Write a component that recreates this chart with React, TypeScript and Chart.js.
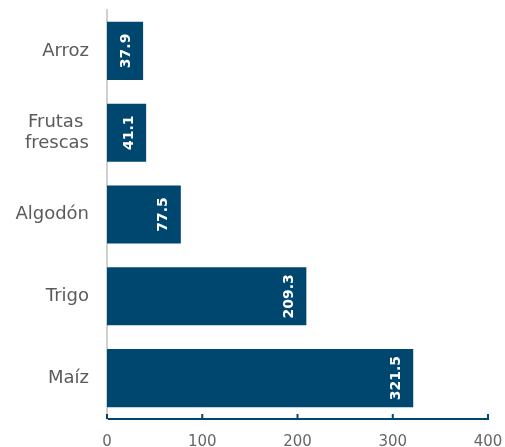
import React, { useEffect, useRef } from "react";
import { Chart, registerables } from "chart.js";

Chart.register(...registerables);

const categories: (string | string[])[] = ["Arroz", ["Frutas ", "frescas"], "Algodón", "Trigo", "Maíz"];
const values = [37.9, 41.1, 77.5, 209.3, 321.5];
const valueLabels = ["37.9", "41.1", "77.5", "209.3", "321.5"];

const NAVY = "#00476F";
const FONT = "'DejaVu Sans', 'Open Sans', sans-serif";

const barLabelPlugin = {
  id: "barLabels",
  afterDatasetsDraw(chart: any) {
    const ctx = chart.ctx;
    const meta = chart.getDatasetMeta(0);
    ctx.save();
    ctx.fillStyle = "#ffffff";
    ctx.font = `bold 14px ${FONT}`;
    ctx.textAlign = "center";
    ctx.textBaseline = "middle";
    meta.data.forEach((bar: any, i: number) => {
      const x = bar.x - 17;
      const y = bar.y;
      ctx.save();
      ctx.translate(x, y);
      ctx.rotate(-Math.PI / 2);
      ctx.fillText(valueLabels[i], 0, 0);
      ctx.restore();
    });
    ctx.restore();
  },
};

const upTicksPlugin = {
  id: "upTicks",
  afterDraw(chart: any) {
    const scale = chart.scales.x;
    const ctx = chart.ctx;
    const yb = chart.chartArea.bottom;
    ctx.save();
    ctx.strokeStyle = NAVY;
    ctx.lineWidth = 2;
    scale.ticks.forEach((_t: any, i: number) => {
      const x = scale.getPixelForTick(i);
      ctx.beginPath();
      ctx.moveTo(x, yb);
      ctx.lineTo(x, yb - 5);
      ctx.stroke();
    });
    ctx.restore();
  },
};

export default function App() {
  const ref = useRef<HTMLCanvasElement>(null);
  useEffect(() => {
    document.body.style.margin = "0";
    const chart = new Chart(ref.current!, {
      type: "bar",
      data: {
        labels: categories,
        datasets: [
          {
            data: values,
            backgroundColor: NAVY,
            borderWidth: 0,
            barPercentage: 0.71,
            categoryPercentage: 1,
          },
        ],
      },
      options: {
        indexAxis: "y",
        animation: false,
        responsive: false,
        layout: { padding: { top: 10, right: 0, left: 0, bottom: 0 } },
        plugins: { legend: { display: false }, tooltip: { enabled: false } },
        scales: {
          x: {
            min: 0,
            max: 400,
            ticks: { stepSize: 100, color: "#666", font: { family: FONT, size: 15 }, padding: 14 },
            grid: { display: false, drawTicks: false },
            border: { display: true, color: NAVY, width: 2 },
            afterFit(scale: any) {
              scale.height = 28;
              scale.paddingRight = 17;
              scale.paddingLeft = 0;
            },
          },
          y: {
            ticks: { color: "#5a5a5a", font: { family: FONT, size: 18 }, padding: 18, crossAlign: "near" },
            grid: { display: false, drawTicks: false },
            border: { display: true, color: "#d0d0d0", width: 2 },
            afterFit(scale: any) {
              scale.width = 107;
              scale.paddingTop = 0;
              scale.paddingBottom = 0;
            },
          },
        },
      },
      plugins: [barLabelPlugin, upTicksPlugin],
    } as any);
    return () => chart.destroy();
  }, []);
  return <canvas ref={ref} width={505} height={447} style={{ display: "block" }} />;
}
